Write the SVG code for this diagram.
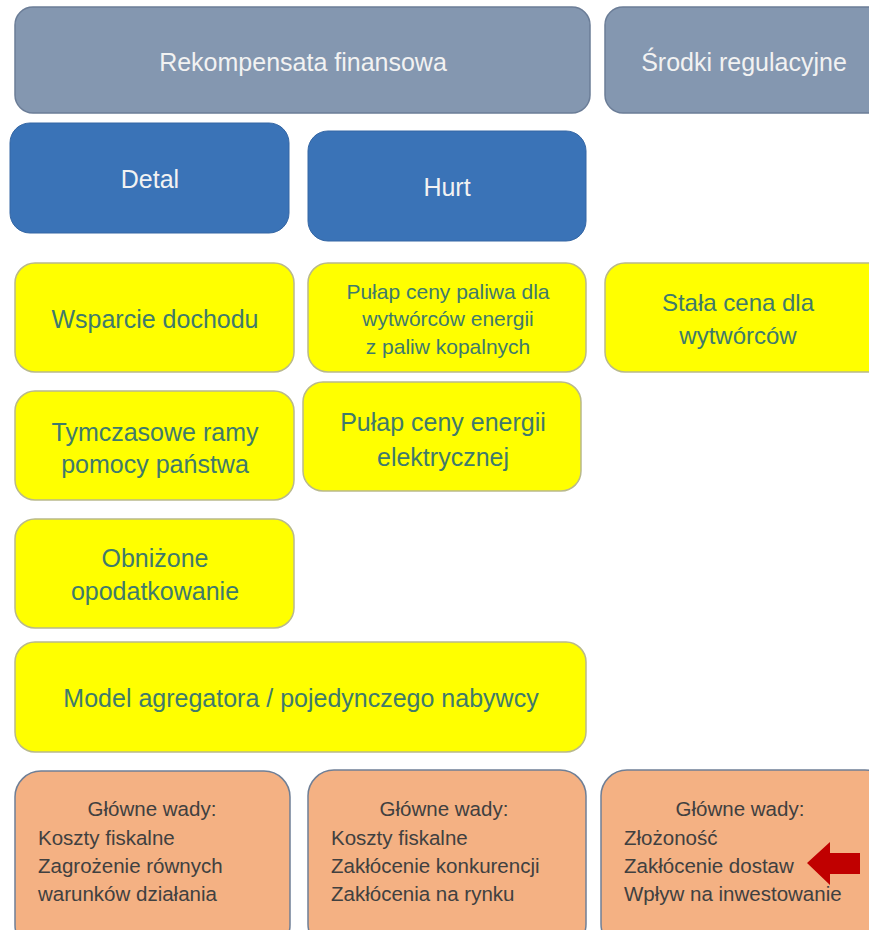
<svg xmlns="http://www.w3.org/2000/svg" width="869" height="930" viewBox="0 0 869 930">
<style>
.gray{fill:#8497b0;stroke:#6b7d97;stroke-width:1.5}
.blue{fill:#3a73b7;stroke:#3466a4;stroke-width:1}
.yel{fill:#ffff00;stroke:#b9b98c;stroke-width:1.5}
.org{fill:#f4b183;stroke:#6f7f96;stroke-width:1.5}
text{font-family:"Liberation Sans",Arial,sans-serif}
.wt{fill:#f2f2f2;font-size:25px;text-anchor:middle}
.yt{fill:#3f7a6c;font-size:25px;text-anchor:middle}
.ys{fill:#3f7a6c;font-size:21px;text-anchor:middle}
.ot{fill:#404040;font-size:20.5px}
.oc{text-anchor:middle}
</style>
<rect width="869" height="930" fill="#ffffff"/>
<g id="rekompensata"><rect class="gray" x="15" y="7" width="575" height="106" rx="18"/><text class="wt" x="303" y="71">Rekompensata finansowa</text></g>
<g id="srodki"><rect class="gray" x="605" y="7" width="290" height="106" rx="18"/><text class="wt" x="744" y="71">Środki regulacyjne</text></g>
<g id="detal"><rect class="blue" x="10" y="123" width="279" height="110" rx="20"/><text class="wt" x="150" y="188">Detal</text></g>
<g id="hurt"><rect class="blue" x="308" y="131" width="278" height="110" rx="20"/><text class="wt" x="447" y="196">Hurt</text></g>
<g id="wsparcie"><rect class="yel" x="15" y="263" width="279" height="109" rx="20"/><text class="yt" x="155" y="328">Wsparcie dochodu</text></g>
<g id="pulap-paliwa"><rect class="yel" x="308" y="263" width="278" height="109" rx="20"/><text class="ys" x="448" y="299">Pułap ceny paliwa dla</text><text class="ys" x="448" y="326">wytwórców energii</text><text class="ys" x="448" y="354">z paliw kopalnych</text></g>
<g id="stala-cena"><rect class="yel" x="605" y="263" width="290" height="109" rx="20"/><text class="yt" x="738" y="311" style="font-size:24px">Stała cena dla</text><text class="yt" x="738" y="344" style="font-size:24px">wytwórców</text></g>
<g id="tymczasowe"><rect class="yel" x="15" y="391" width="279" height="109" rx="20"/><text class="yt" x="155" y="441">Tymczasowe ramy</text><text class="yt" x="155" y="473">pomocy państwa</text></g>
<g id="pulap-energii"><rect class="yel" x="303" y="382" width="278" height="109" rx="20"/><text class="yt" x="443" y="431">Pułap ceny energii</text><text class="yt" x="443" y="466">elektrycznej</text></g>
<g id="obnizone"><rect class="yel" x="15" y="519" width="279" height="109" rx="20"/><text class="yt" x="155" y="567">Obniżone</text><text class="yt" x="155" y="600">opodatkowanie</text></g>
<g id="model"><rect class="yel" x="15" y="642" width="571" height="110" rx="20"/><text class="yt" x="301" y="707">Model agregatora / pojedynczego nabywcy</text></g>
<g id="wady1"><rect class="org" x="15" y="771" width="275" height="180" rx="26"/><text class="ot oc" x="152" y="816">Główne wady:</text><text class="ot" x="38" y="845">Koszty fiskalne</text><text class="ot" x="38" y="873">Zagrożenie równych</text><text class="ot" x="38" y="901">warunków działania</text></g>
<g id="wady2"><rect class="org" x="308" y="770" width="278" height="180" rx="26"/><text class="ot oc" x="444" y="816">Główne wady:</text><text class="ot" x="331" y="845">Koszty fiskalne</text><text class="ot" x="331" y="873">Zakłócenie konkurencji</text><text class="ot" x="331" y="901">Zakłócenia na rynku</text></g>
<g id="wady3"><rect class="org" x="601" y="770" width="290" height="180" rx="26"/><text class="ot oc" x="740" y="816">Główne wady:</text><text class="ot" x="624" y="845">Złożoność</text><text class="ot" x="624" y="873">Zakłócenie dostaw</text><text class="ot" x="624" y="901">Wpływ na inwestowanie</text></g>
<g id="connectors"><polygon points="807,863 830,842 830,853 860,853 860,874 830,874 830,885" fill="#c00000"/></g>
</svg>
